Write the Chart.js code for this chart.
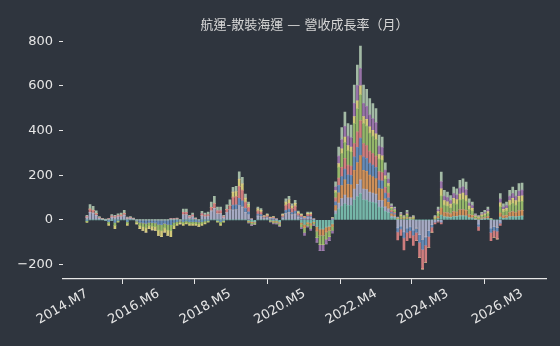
<!DOCTYPE html>
<html>
<head>
<meta charset="utf-8">
<script src="https://cdn.jsdelivr.net/npm/chart.js@4.4.1/dist/chart.umd.min.js"></script>
<style>
  html, body { margin: 0; padding: 0; background: #2f353e; }
  #wrap { width: 560px; height: 346px; }
</style>
</head>
<body>
<div id="wrap"><canvas id="chart" width="560" height="346"></canvas></div>
<script>
// monthly categories: 2014.M7 ... 2026.M3 (141 months)
const startYear = 2014, startMonth = 7, monthCount = 141;
const months = [];
for (let i = 0; i < monthCount; i++) {
    const m = startMonth - 1 + i;
    months.push((startYear + Math.floor(m / 12)) + '.M' + (m % 12 + 1));
}
// months that carry a tick label on the x axis
const tickIdx = [0, 23, 46, 70, 93, 116, 140];
const yTicks = [-200, 0, 200, 400, 600, 800];

// one array per company (stacked per month)
const s1 = [
    0,0,0,0,0,0,0,0,0,0, 0,0,0,0,0,0,0,0,0,0, 0,0,0,0,0,0,0,0,0,0, 0,0,0,0,0,0,0,0,0,0, 0,0,0,0,0,0,0,
    0,0,0,0,0,-4,-8,-7,0,0, 0,0,-3,-5,-5,-9,0,0,0,0, 0,0,-12,-21,-10,-14,-8,-30,-41,-41, -32,-28,-18,
    26,49,62,72,65,64,90,104,117,90, 88,81,78,75,57,56,38,32,11,9,
    1,3,2,4,1,2,0,0,0,0, 0,0,2,6,21,13,12,11,15,14, 18,18,17,9,8,3,2,3,4,6, 1,0,0,12,7,8,13,15,13,16, 17
];
const s2 = [
    10,34,30,20,8,3,2,3,12,10, 14,15,21,6,8,4,0,0,0,0, 0,0,0,0,0,0,0,3,3,4, 0,24,24,10,15,5,0,19,15,17, 40,52,28,28,10,33,45,
    44,45,64,57,34,24,2,0,17,15, 6,8,4,5,2,0,8,28,32,22, 26,12,8,5,10,10,2,0,0,0, 0,0,3,
    14,26,33,39,34,34,48,55,62,48, 47,43,42,40,30,30,20,17,6,5,
    -36,-28,-54,-37,-32,-46,-37,-67,-88,-76, -49,-22,-7,-4,-7,0,0,0,0,0, 0,0,0,0,0,0,-19,0,0,0, -37,-31,-34,-10,0,0,0,0,0,0, 0
];
const s3 = [
    0,0,0,0,0,0,0,0,0,0, 0,0,0,0,0,0,0,0,0,0, 0,0,0,0,0,0,0,0,0,0, 0,0,0,0,0,0,0,0,0,0, 0,0,0,0,0,0,0,
    0,0,0,0,0,-3,-5,-4,0,0, 0,0,-2,-4,-4,-6,0,0,0,0, 0,0,-8,-14,-7,-10,-5,-20,-28,-28, -22,-19,-12,
    24,46,58,68,60,59,84,97,109,84, 82,76,73,70,53,52,36,29,10,8,
    2,5,3,6,2,3,0,0,0,0, 0,0,3,9,32,20,19,16,22,21, 27,28,25,14,12,4,3,5,6,9, 1,0,0,18,11,12,20,22,20,24, 25
];
const s4 = [
    -4,0,0,0,0,0,-1,-8,-1,-12, -3,0,0,-8,0,0,-5,-12,-14,-16, -12,-13,-14,-21,-22,-16,-21,-22,-12,-8, -5,-8,-5,-8,-8,-8,-9,-8,-5,-3, 0,0,-3,-8,-3,0,0,
    22,22,32,28,17,12,1,0,9,8, 3,4,2,2,1,0,4,14,16,11, 13,6,4,2,5,5,1,0,0,0, 0,0,2,
    17,33,41,48,43,42,60,69,78,60, 58,54,52,50,38,37,26,21,7,6,
    -18,-14,-27,-19,-17,-23,-19,-34,-44,-38, -25,-11,-4,-2,-4,0,0,0,0,0, 0,0,0,0,0,0,-10,0,0,0, -19,-16,-17,-5,0,0,0,0,0,0, 0
];
const s5 = [
    4,14,12,8,3,1,0,1,5,4, 5,6,8,2,3,2,0,0,0,0, 0,0,0,0,0,0,0,1,1,2, 0,10,10,4,6,2,0,8,6,7, 16,21,12,12,4,14,18,
    36,38,54,48,29,20,1,0,14,12, 5,7,3,4,1,0,7,24,26,18, 22,10,7,4,9,9,1,0,0,0, 0,0,2,
    17,33,41,48,43,42,60,69,78,60, 58,54,52,50,38,37,26,21,7,6,
    -36,-28,-54,-37,-32,-46,-37,-67,-88,-76, -49,-22,-7,-4,-7,0,0,0,0,0, 0,0,0,0,0,0,-19,0,0,0, -37,-31,-34,-10,0,0,0,0,0,0, 0
];
const s6 = [
    -4,0,0,0,0,0,-1,-9,-1,-14, -4,0,0,-9,0,0,-7,-14,-17,-20, -14,-16,-17,-25,-27,-20,-25,-27,-14,-9, -7,-9,-7,-9,-9,-9,-11,-9,-7,-4, 0,0,-4,-9,-4,0,0,
    0,0,0,0,0,-5,-7,-7,0,0, 0,0,-3,-5,-5,-9,0,0,0,0, 0,0,-12,-21,-10,-14,-7,-30,-41,-41, -32,-28,-18,
    25,49,62,72,65,64,90,104,117,90, 88,81,78,75,57,56,38,32,11,8,
    3,9,5,11,3,5,0,0,0,0, 0,0,5,14,54,33,31,27,37,35, 44,46,42,24,20,7,5,9,11,14, 1,0,0,29,18,20,33,37,33,41, 41
];
const s7 = [
    -4,0,0,0,0,0,-1,-8,-1,-14, -3,0,0,-8,0,0,-6,-14,-17,-19, -14,-16,-17,-24,-26,-19,-24,-26,-14,-8, -6,-8,-6,-8,-8,-8,-10,-8,-6,-3, 0,0,-3,-8,-3,0,0,
    22,22,32,28,17,12,1,0,9,7, 3,4,2,2,1,0,4,14,16,11, 13,6,4,2,5,5,1,0,0,0, 0,0,2,
    8,16,21,24,22,21,30,35,39,30, 29,27,26,25,19,19,13,10,4,3,
    2,5,3,6,2,3,0,0,0,0, 0,0,3,8,32,20,19,16,22,21, 26,28,25,14,12,4,3,5,6,8, 1,0,0,17,11,12,20,22,20,24, 25
];
const s8 = [
    0,0,0,0,0,0,0,0,0,0, 0,0,0,0,0,0,0,0,0,0, 0,0,0,0,0,0,0,0,0,0, 0,0,0,0,0,0,0,0,0,0, 0,0,0,0,0,0,0,
    0,0,0,0,0,-3,-5,-4,0,0, 0,0,-2,-4,-4,-6,0,0,0,0, 0,0,-8,-14,-6,-10,-5,-20,-28,-28, -22,-18,-12,
    17,33,41,48,43,42,60,69,78,60, 58,54,52,50,38,37,26,21,7,6,
    2,5,3,6,2,3,0,0,0,0, 0,0,3,9,32,20,19,17,22,21, 27,28,26,14,12,4,3,5,6,9, 1,0,0,18,11,12,20,22,20,24, 25
];
const s9 = [
    6,20,18,12,4,1,1,1,7,6, 8,9,13,4,4,2,0,0,0,0, 0,0,0,0,0,0,0,1,1,2, 0,14,14,6,9,2,0,11,9,11, 24,32,17,17,6,20,27,
    21,23,33,29,18,12,0,0,8,8, 2,4,1,2,0,0,4,14,15,10, 13,5,4,2,6,6,0,0,0,0, 0,0,1,
    22,41,54,64,56,56,81,91,100,81, 76,73,68,63,49,47,32,27,9,6,
    2,7,3,9,2,3,0,0,0,0, 0,0,3,11,43,26,24,22,29,27, 35,36,34,19,15,5,3,7,9,11, 0,0,0,23,14,15,26,29,26,33, 32
];

const series = [s1, s2, s3, s4, s5, s6, s7, s8, s9];
const colors = [
    'rgba(125,196,180,0.9)', 'rgba(178,182,208,0.9)', 'rgba(224,154,92,0.9)',
    'rgba(108,148,196,0.9)', 'rgba(224,133,133,0.9)', 'rgba(160,196,110,0.9)',
    'rgba(227,216,128,0.9)', 'rgba(164,122,180,0.9)', 'rgba(176,201,176,0.9)'
];

const fg = '#e6e6e6';
const font = { family: "'DejaVu Sans', 'Noto Sans CJK TC', sans-serif", size: 13 };

new Chart(document.getElementById('chart').getContext('2d'), {
    type: 'bar',
    data: {
        labels: months.map((m, i) => i),
        datasets: series.map((d, k) => ({
            data: d,
            backgroundColor: colors[k],
            borderWidth: 0,
            barThickness: 2
        }))
    },
    options: {
        responsive: false,
        animation: false,
        devicePixelRatio: 1,
        layout: { padding: { left: 0, right: 14, top: 0, bottom: 0 } },
        plugins: {
            legend: { display: false },
            tooltip: { enabled: false },
            title: {
                display: true,
                fullSize: false,
                text: '航運-散裝海運 — 營收成長率（月）',
                color: '#d6d6d6',
                font: { family: font.family, size: 13, weight: 'normal' },
                padding: { top: 18, bottom: 2 }
            }
        },
        scales: {
            x: {
                type: 'linear',
                stacked: true,
                offset: false,
                bounds: 'data',
                min: -7.7,
                max: 147.7,
                afterBuildTicks: (axis) => { axis.ticks = tickIdx.map(v => ({ value: v })); },
                afterFit: (axis) => { axis.height = 67; },
                ticks: {
                    color: fg,
                    font: font,
                    minRotation: 30,
                    maxRotation: 30,
                    padding: 2,
                    autoSkip: false,
                    callback: (v) => months[v]
                },
                grid: { drawOnChartArea: false, tickLength: 5, color: fg },
                border: { display: true, color: fg, width: 1.2 }
            },
            y: {
                stacked: true,
                min: -265,
                max: 825,
                afterBuildTicks: (axis) => { axis.ticks = yTicks.map(v => ({ value: v })); },
                afterFit: (axis) => { axis.width = 63; },
                ticks: {
                    color: fg,
                    font: font,
                    padding: 6,
                    callback: (v) => v < 0 ? '\u2212' + Math.abs(v) : String(v)
                },
                grid: { drawOnChartArea: false, tickLength: 4, color: fg },
                border: { display: false }
            }
        }
    }
});
</script>
</body>
</html>
